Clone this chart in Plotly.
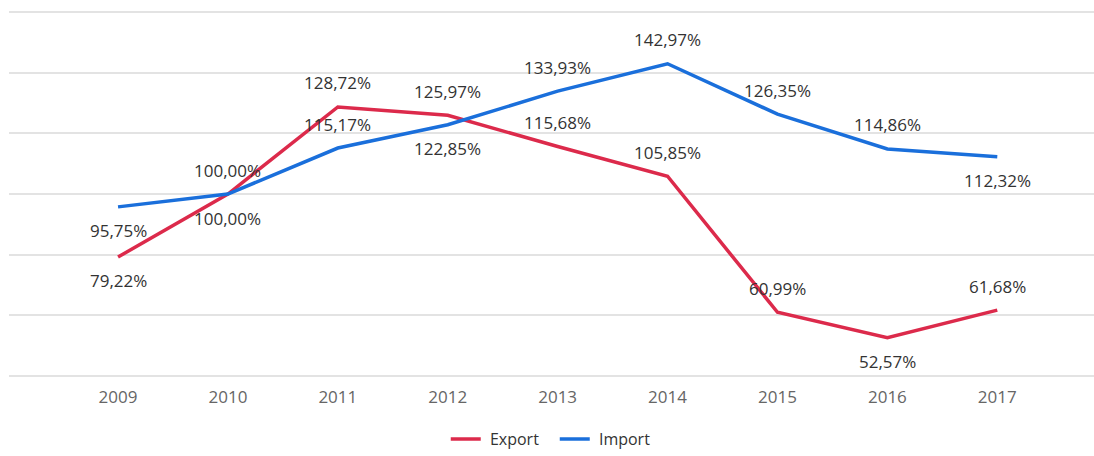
import plotly.graph_objects as go

years = ["2009", "2010", "2011", "2012", "2013", "2014", "2015", "2016", "2017"]
export_vals = [79.22, 100.00, 128.72, 125.97, 115.68, 105.85, 60.99, 52.57, 61.68]
import_vals = [95.75, 100.00, 115.17, 122.85, 133.93, 142.97, 126.35, 114.86, 112.32]
export_pos = [-1, -1, 1, 1, 1, 1, 1, -1, 1]
import_pos = [-1, 1, 1, -1, 1, 1, 1, 1, -1]

EXPORT_COLOR = "#DC2A4B"
IMPORT_COLOR = "#1A6FDB"

def fmt(v):
    return f"{v:.2f}".replace(".", ",") + "%"

fig = go.Figure()
fig.add_trace(go.Scatter(x=years, y=export_vals, mode="lines", name="\u00a0Export",
                         line=dict(color=EXPORT_COLOR, width=3.5), hoverinfo="skip"))
fig.add_trace(go.Scatter(x=years, y=import_vals, mode="lines", name="\u00a0Import",
                         line=dict(color=IMPORT_COLOR, width=3.5), hoverinfo="skip"))

annotations = []
for vals, pos in ((export_vals, export_pos), (import_vals, import_pos)):
    for i, (v, p) in enumerate(zip(vals, pos)):
        annotations.append(dict(x=i, y=v, xref="x", yref="y", text=fmt(v), showarrow=False,
                                yshift=24 * p, font=dict(size=17, color="#333333")))

fig.update_layout(
    width=1094, height=456,
    margin=dict(l=9, r=0, t=10, b=78),
    paper_bgcolor="white", plot_bgcolor="white",
    font=dict(family="Open Sans, Noto Sans, sans-serif", size=16, color="#333333"),
    annotations=annotations,
    showlegend=True,
    legend=dict(orientation="h", x=0.503, xanchor="center", yref="container",
                y=0.0, yanchor="bottom", entrywidth=64,
                font=dict(size=16, color="#333333")),
    xaxis=dict(type="category", range=[-0.992, 8.88], showgrid=False, showline=False,
               zeroline=False, ticks="outside", ticklen=4, tickcolor="rgba(0,0,0,0)",
               tickfont=dict(size=17, color="#666666")),
    yaxis=dict(range=[39.3, 160.7], dtick=20, tick0=40, showticklabels=False,
               gridcolor="#E3E3E3", gridwidth=1.5, zeroline=False, showline=False),
)

fig.write_html("out.html", config={"displayModeBar": False},
               post_script="document.body.style.margin='0';document.body.style.overflow='hidden';")
